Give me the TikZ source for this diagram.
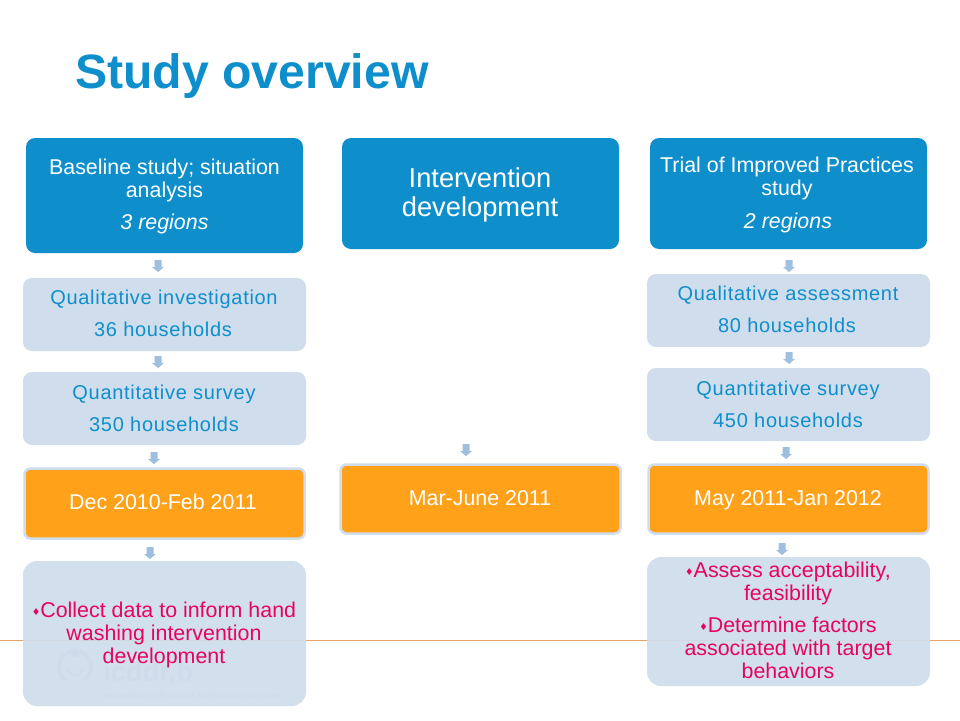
\documentclass[tikz,border=0pt]{standalone}
\usepackage{fontspec}
\setmainfont{Liberation Sans}
\newfontfamily\symf{DejaVu Sans}
\newfontfamily\widef[LetterSpace=3.5]{Liberation Sans}
\usetikzlibrary{calc}
\definecolor{cblue}{HTML}{0E8FCB}
\definecolor{clight}{HTML}{CFDDEC}
\definecolor{corange}{HTML}{FFA119}
\definecolor{cpink}{HTML}{E6045F}
\definecolor{cline}{HTML}{E8A468}
\definecolor{carrow}{HTML}{9FBFDF}
\definecolor{clogo}{HTML}{BCCBDB}
\newcommand{\fs}[2]{\fontsize{#1}{#2}\selectfont}
\newcommand{\bul}{\raisebox{2pt}{{\symf\fs{9.5}{9.5}♦}}}
\tikzset{
  x=1pt,y=-1pt,
  boxbase/.style={rounded corners=9pt,anchor=north west,inner sep=0pt,outer sep=0pt,align=center},
  headbox/.style={boxbase,fill=cblue,text=white},
  lightbox/.style={boxbase,fill=clight,text=cblue},
  datebox/.style={boxbase,fill=corange,draw=clight,line width=2.5pt,rounded corners=6pt,text=white},
  goalbox/.style={boxbase,fill=clight,fill opacity=.92,text opacity=1,text=cpink,rounded corners=14pt},
  lbl/.style={inner sep=0pt,outer sep=0pt,align=center,anchor=base},
  whitetxt/.style={lbl,text=white,font=\fs{21.4}{23}},
  whiteit/.style={lbl,text=white,font=\fs{21.4}{23}\itshape},
  bluetxt/.style={lbl,text=cblue,font=\widef\fs{20}{23}},
  pinktxt/.style={lbl,text=cpink,font=\fs{21.4}{23}},
  flow/.style={fill=carrow},
}
% name, x (centre), y (top)
\newcommand{\flowarrow}[3]{\fill[flow] (#2-3.5,#3) coordinate (#1) -- ++(7,0) -- ++(0,7) -- ++(2.5,0) -- (#2,#3+12) -- (#2-6,#3+7) -- (#2-3.5,#3+7) -- cycle;}
\begin{document}
\begin{tikzpicture}
\useasboundingbox (0,0) rectangle (960,720);
\fill[white] (0,0) rectangle (960,720);
\node[lbl,anchor=base west,text=cblue,font=\bfseries\fs{48.2}{50}] (title) at (75,88) {Study overview};
\draw[cline,line width=.8pt] (0,640) coordinate (ls) -- (960,640) coordinate (le);
% logo
\draw[clogo,line width=3.5pt] (75,667) ++(55:16) arc[start angle=55,end angle=-235,radius=16];
\draw[clogo,line width=2.5pt] (75,667) ++(20:8) arc[start angle=20,end angle=160,radius=8];
\fill[clogo] (75,653) circle (5);
\node[lbl,anchor=base west,text=clogo,font=\bfseries\fs{27.5}{30}] (logo) at (103,681) {icddr,b};
\node[lbl,anchor=base west,text=clogo,font=\bfseries\fs{6.9}{8}] (logotag) at (103,698) {KNOWLEDGE FOR GLOBAL LIFESAVING SOLUTIONS};
% left
\node[headbox,minimum width=277pt,minimum height=115pt] (a1) at (26,138) {};
\node[whitetxt] (a1t) at (164.5,197) {Baseline study; situation\\ analysis};
\node[whiteit] (a1u) at (164.5,229) {3 regions};
\node[lightbox,minimum width=283pt,minimum height=73pt] (a2) at (23,278) {};
\node[bluetxt] (a2t) at (164,304) {Qualitative investigation};
\node[bluetxt] (a2u) at (163,336) {36 households};
\node[lightbox,minimum width=283pt,minimum height=73pt] (a3) at (23,372) {};
\node[bluetxt] (a3t) at (164,399) {Quantitative survey};
\node[bluetxt] (a3u) at (164,431) {350 households};
\node[datebox,minimum width=280pt,minimum height=70pt] (a4) at (24.5,468.5) {};
\node[whitetxt] (a4t) at (163,509) {Dec 2010-Feb 2011};
\node[goalbox,minimum width=283pt,minimum height=145pt] (a5) at (23,561) {};
\node[pinktxt] (a5t) at (164,663) {\bul Collect data to inform hand\\ washing intervention\\ development};
% middle
\node[headbox,minimum width=277pt,minimum height=111pt] (b1) at (342,138) {};
\node[lbl,text=white,font=\fs{27.3}{29}] (b1t) at (480,216) {Intervention\\ development};
\node[datebox,minimum width=280pt,minimum height=69pt] (b2) at (340.5,464.5) {};
\node[whitetxt] (b2t) at (480,505) {Mar-June 2011};
% right
\node[headbox,minimum width=277pt,minimum height=111pt] (c1) at (650,138) {};
\node[whitetxt] (c1t) at (787,195) {Trial of Improved Practices\\ study};
\node[whiteit] (c1u) at (788,228) {2 regions};
\node[lightbox,minimum width=283pt,minimum height=73pt] (c2) at (647,274) {};
\node[bluetxt] (c2t) at (788,300) {Qualitative assessment};
\node[bluetxt] (c2u) at (787,332) {80 households};
\node[lightbox,minimum width=283pt,minimum height=73pt] (c3) at (647,368) {};
\node[bluetxt] (c3t) at (788,395) {Quantitative survey};
\node[bluetxt] (c3u) at (788,427) {450 households};
\node[datebox,minimum width=280pt,minimum height=69pt] (c4) at (648.5,464.5) {};
\node[whitetxt] (c4t) at (788,505) {May 2011-Jan 2012};
\node[goalbox,minimum width=283pt,minimum height=129pt] (c5) at (647,557) {};
\node[pinktxt] (c5t) at (788,600) {\bul Assess acceptability,\\ feasibility};
\node[pinktxt] (c5u) at (788,678) {\bul Determine factors\\ associated with target\\ behaviors};
% arrows
\flowarrow{f1}{158}{260}
\flowarrow{f2}{158}{356}
\flowarrow{f3}{154}{452}
\flowarrow{f4}{150}{547}
\flowarrow{f5}{466}{444}
\flowarrow{f6}{789}{260}
\flowarrow{f7}{789}{352}
\flowarrow{f8}{786}{447}
\flowarrow{f9}{782}{543}
\end{tikzpicture}
\end{document}
